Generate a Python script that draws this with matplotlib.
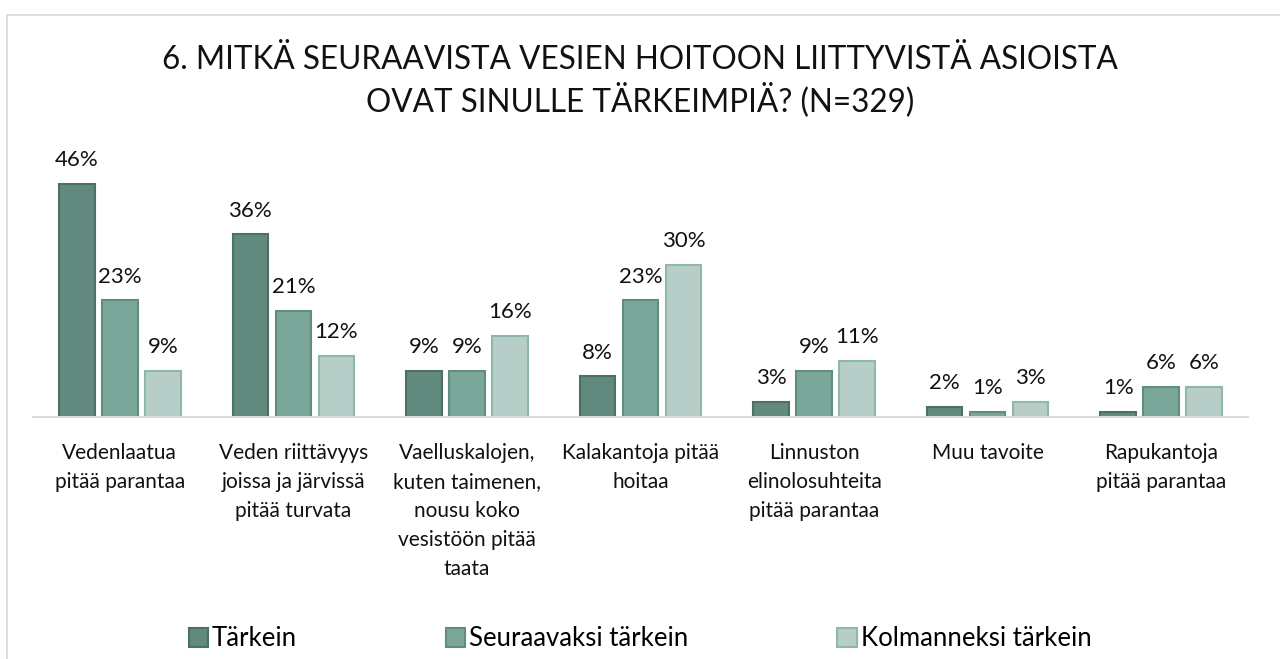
import matplotlib.pyplot as plt
import matplotlib.patches as mpatches
import numpy as np

plt.rcParams['font.family'] = ['Lato', 'DejaVu Sans']

categories = ['Vedenlaatua\npitää parantaa',
              'Veden riittävyys\njoissa ja järvissä\npitää turvata',
              'Vaelluskalojen,\nkuten taimenen,\nnousu koko\nvesistöön pitää\ntaata',
              'Kalakantoja pitää\nhoitaa',
              'Linnuston\nelinolosuhteita\npitää parantaa',
              'Muu tavoite',
              'Rapukantoja\npitää parantaa']
series_names = ['Tärkein', 'Seuraavaksi tärkein', 'Kolmanneksi tärkein']
tarkein = [46, 36, 9, 8, 3, 2, 1]
seuraava = [23, 21, 9, 23, 9, 1, 6]
kolmas = [9, 12, 16, 30, 11, 3, 6]

fills = ['#62897E', '#7BA79B', '#B6CEC7']
edges = ['#4B7166', '#5F8D80', '#8FB7AB']

fig = plt.figure(figsize=(12.8, 6.59), dpi=100)
# chart border
fig.patches.append(mpatches.Rectangle((7 / 1280, -0.01), 1.0, 1 - 15 / 659 + 0.01,
                                      transform=fig.transFigure, fill=False,
                                      edgecolor='#D9D9D9', lw=1.2))

ax = fig.add_axes([33 / 1280, 1 - 417 / 659, 1215 / 1280, 253.5 / 659])

x = np.arange(len(categories))
w = 0.205
step = 0.248
for i, vals in enumerate([tarkein, seuraava, kolmas]):
    bars = ax.bar(x + (i - 1) * step, vals, width=w, color=fills[i],
                  edgecolor=edges[i], linewidth=1.5, label=series_names[i])
    for b, v in zip(bars, vals):
        ax.annotate(f'{v}%', (b.get_x() + b.get_width() / 2, v),
                    xytext=(0, 10), textcoords='offset points',
                    ha='center', va='bottom', fontsize=16, color='#111111')

ax.set_xlim(-0.5, len(categories) - 0.5)
ax.set_ylim(0, 50)
ax.set_yticks([])
for s in ['top', 'left', 'right']:
    ax.spines[s].set_visible(False)
ax.spines['bottom'].set_color('#D9D9D9')
ax.spines['bottom'].set_linewidth(1.5)
ax.set_xticks(x)
ax.set_xticklabels(categories, fontsize=15, linespacing=1.55, color='#111111')
ax.tick_params(axis='x', length=0, pad=19)

fig.suptitle('6. MITKÄ SEURAAVISTA VESIEN HOITOON LIITTYVISTÄ ASIOISTA\nOVAT SINULLE TÄRKEIMPIÄ? (N=329)',
             fontsize=22.7, y=1 - 45 / 659, va='top', linespacing=1.27, color='#111111')

fig.legend(loc='center', bbox_to_anchor=(0.5, 1 - 639 / 659), ncol=3, frameon=False,
           fontsize=18.5, handlelength=0.75, handleheight=0.75, handletextpad=0.15,
           columnspacing=5.8)

fig.savefig('out.png', dpi=100)
